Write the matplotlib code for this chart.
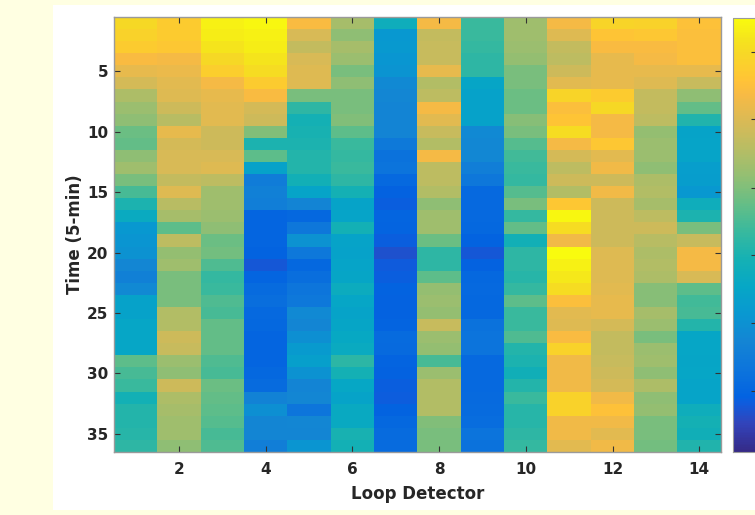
import numpy as np
import matplotlib.pyplot as plt
from matplotlib.colors import LinearSegmentedColormap
from matplotlib.patches import Rectangle

plt.rcParams['font.family'] = ['DejaVu Sans']
plt.rcParams['font.weight'] = 'bold'
plt.rcParams['axes.labelweight'] = 'bold'

# valores normalizados (0-1) por detector, linhas = intervalos de 5 min
det01 = [0.92, 0.90, 0.88, 0.83, 0.79, 0.75, 0.68, 0.65, 0.63, 0.58, 0.57, 0.63,
         0.66, 0.60, 0.53, 0.46, 0.40, 0.32, 0.31, 0.30, 0.26, 0.235, 0.27, 0.36,
         0.36, 0.38, 0.38, 0.38, 0.56, 0.53, 0.51, 0.44, 0.47, 0.47, 0.48, 0.49]
det02 = [0.88, 0.88, 0.87, 0.82, 0.80, 0.78, 0.77, 0.74, 0.70, 0.79, 0.75, 0.76,
         0.76, 0.72, 0.77, 0.70, 0.67, 0.56, 0.71, 0.64, 0.66, 0.60, 0.60, 0.60,
         0.69, 0.69, 0.74, 0.73, 0.65, 0.63, 0.74, 0.68, 0.67, 0.66, 0.66, 0.63]
det03 = [0.98, 0.97, 0.95, 0.92, 0.89, 0.82, 0.79, 0.78, 0.78, 0.74, 0.74, 0.76,
         0.77, 0.71, 0.66, 0.66, 0.65, 0.63, 0.58, 0.59, 0.54, 0.50, 0.51, 0.54,
         0.53, 0.57, 0.57, 0.57, 0.54, 0.53, 0.58, 0.57, 0.56, 0.55, 0.53, 0.54]
det04 = [0.99, 0.98, 0.97, 0.95, 0.93, 0.88, 0.83, 0.75, 0.74, 0.61, 0.46, 0.56,
         0.36, 0.22, 0.235, 0.23, 0.14, 0.14, 0.14, 0.13, 0.105, 0.14, 0.16, 0.17,
         0.15, 0.145, 0.14, 0.14, 0.14, 0.145, 0.16, 0.245, 0.29, 0.255, 0.255, 0.23]
det05 = [0.83, 0.76, 0.72, 0.76, 0.77, 0.77, 0.60, 0.49, 0.445, 0.45, 0.46, 0.47,
         0.47, 0.435, 0.37, 0.25, 0.145, 0.20, 0.30, 0.205, 0.145, 0.17, 0.195, 0.205,
         0.27, 0.255, 0.29, 0.33, 0.35, 0.30, 0.25, 0.26, 0.195, 0.26, 0.255, 0.31]
det06 = [0.67, 0.63, 0.67, 0.65, 0.60, 0.63, 0.60, 0.60, 0.61, 0.56, 0.51, 0.50,
         0.51, 0.49, 0.445, 0.365, 0.37, 0.44, 0.365, 0.36, 0.37, 0.375, 0.41, 0.38,
         0.365, 0.375, 0.39, 0.40, 0.485, 0.445, 0.385, 0.365, 0.395, 0.395, 0.45, 0.44]
det07 = [0.42, 0.32, 0.325, 0.315, 0.305, 0.27, 0.26, 0.25, 0.25, 0.25, 0.21, 0.18,
         0.19, 0.15, 0.125, 0.12, 0.14, 0.135, 0.12, 0.09, 0.111, 0.12, 0.13, 0.125,
         0.125, 0.135, 0.16, 0.155, 0.135, 0.125, 0.12, 0.117, 0.13, 0.145, 0.16, 0.16]
det08 = [0.82, 0.72, 0.73, 0.73, 0.79, 0.69, 0.71, 0.82, 0.78, 0.73, 0.69, 0.82,
         0.71, 0.71, 0.69, 0.63, 0.66, 0.66, 0.58, 0.49, 0.49, 0.56, 0.64, 0.65,
         0.64, 0.73, 0.65, 0.64, 0.53, 0.65, 0.69, 0.69, 0.69, 0.61, 0.60, 0.60]
det09 = [0.51, 0.51, 0.50, 0.49, 0.49, 0.375, 0.36, 0.36, 0.36, 0.27, 0.265, 0.265,
         0.23, 0.20, 0.15, 0.15, 0.15, 0.145, 0.13, 0.105, 0.125, 0.145, 0.15, 0.145,
         0.145, 0.18, 0.19, 0.19, 0.15, 0.15, 0.15, 0.155, 0.16, 0.165, 0.19, 0.18]
det10 = [0.66, 0.66, 0.65, 0.64, 0.60, 0.60, 0.58, 0.58, 0.62, 0.60, 0.55, 0.52,
         0.51, 0.50, 0.55, 0.60, 0.50, 0.57, 0.435, 0.49, 0.49, 0.48, 0.50, 0.56,
         0.51, 0.51, 0.54, 0.47, 0.46, 0.43, 0.47, 0.51, 0.48, 0.48, 0.49, 0.50]
det11 = [0.82, 0.77, 0.72, 0.71, 0.74, 0.78, 0.91, 0.84, 0.86, 0.93, 0.82, 0.75,
         0.71, 0.74, 0.69, 0.87, 0.99, 0.93, 0.81, 1.00, 0.98, 0.96, 0.93, 0.84,
         0.78, 0.77, 0.83, 0.90, 0.81, 0.81, 0.81, 0.90, 0.90, 0.81, 0.81, 0.78]
det12 = [0.91, 0.86, 0.83, 0.79, 0.79, 0.79, 0.88, 0.92, 0.82, 0.82, 0.87, 0.78,
         0.81, 0.74, 0.81, 0.74, 0.74, 0.74, 0.74, 0.77, 0.77, 0.77, 0.78, 0.79,
         0.79, 0.75, 0.72, 0.72, 0.73, 0.74, 0.75, 0.81, 0.85, 0.81, 0.78, 0.81]
det13 = [0.90, 0.87, 0.83, 0.82, 0.79, 0.77, 0.72, 0.72, 0.71, 0.64, 0.65, 0.65,
         0.63, 0.68, 0.69, 0.67, 0.71, 0.74, 0.70, 0.68, 0.69, 0.68, 0.62, 0.62,
         0.67, 0.65, 0.60, 0.65, 0.66, 0.63, 0.68, 0.63, 0.64, 0.60, 0.60, 0.59]
det14 = [0.85, 0.84, 0.84, 0.84, 0.79, 0.73, 0.63, 0.57, 0.465, 0.365, 0.37, 0.37,
         0.345, 0.34, 0.32, 0.42, 0.46, 0.60, 0.73, 0.82, 0.82, 0.76, 0.56, 0.52,
         0.53, 0.47, 0.38, 0.38, 0.375, 0.38, 0.37, 0.37, 0.42, 0.445, 0.43, 0.465]

x_ticks = [2, 4, 6, 8, 10, 12, 14]
y_ticks = [5, 10, 15, 20, 25, 30, 35]
cbar_ticks = [0.14, 0.297, 0.454, 0.609, 0.767, 0.922]

data = np.column_stack([det01, det02, det03, det04, det05, det06, det07,
                        det08, det09, det10, det11, det12, det13, det14])
n_rows, n_cols = data.shape

# aproximacao do mapa de cores parula (MATLAB)
parula = LinearSegmentedColormap.from_list('parula', [
    (0 / 63, '#352A87'), (4 / 63, '#3243BA'), (7 / 63, '#0F5CDD'),
    (8 / 63, '#0363E1'), (12 / 63, '#0D75DC'), (16 / 63, '#1485D4'),
    (20 / 63, '#0998D1'), (24 / 63, '#06A7C6'), (28 / 63, '#15B1B4'),
    (32 / 63, '#38B99E'), (36 / 63, '#65BE86'), (40 / 63, '#92BF73'),
    (44 / 63, '#B7BD64'), (48 / 63, '#D9BA56'), (52 / 63, '#F8BA44'),
    (54 / 63, '#FFC337'), (56 / 63, '#FCCE2E'), (58 / 63, '#F7D826'),
    (60 / 63, '#F5E41D'), (63 / 63, '#F9FB0E')])

W, H = 755, 515
fig = plt.figure(figsize=(W / 100, H / 100), dpi=100, facecolor='#FFFFE2')
# painel branco atras do grafico
fig.add_artist(Rectangle((53 / W, 5 / H), 1, 505 / H, transform=fig.transFigure,
                         facecolor='white', edgecolor='none', zorder=-10))

ax = fig.add_axes([114 / W, 63 / H, 607 / W, 435 / H])
im = ax.imshow(data, cmap=parula, vmin=0, vmax=1, aspect='auto',
               interpolation='nearest',
               extent=(0.5, n_cols + 0.5, n_rows + 0.5, 0.5))

ax.set_xticks(x_ticks)
ax.set_yticks(y_ticks)
ax.tick_params(direction='in', length=4.3, width=0.8, top=True, right=True,
               color='#333333', labelcolor='#262626', labelsize=11)
ax.tick_params(axis='x', pad=7)
ax.tick_params(axis='y', pad=4)
for s in ax.spines.values():
    s.set_edgecolor('#9a9a9a')
    s.set_linewidth(1)

ax.set_xlabel('Loop Detector', fontsize=12, fontweight='bold', color='#262626')
ax.set_ylabel('Time (5-min)', fontsize=12, fontweight='bold', color='#262626')
ax.xaxis.set_label_coords(0.5, -(485 - 452) / 435)
ax.yaxis.set_label_coords(-(114 - 84) / 607, 0.5)

# barra de cores (cortada na borda direita)
cax = fig.add_axes([733 / W, 63 / H, 24 / W, 434 / H])
cb = fig.colorbar(im, cax=cax)
cb.set_ticks(cbar_ticks)
cb.ax.tick_params(direction='in', length=4.3, width=0.8, color='#333333',
                  labelright=False)
cb.outline.set_edgecolor('#9a9a9a')

fig.savefig('out.png', dpi=100, facecolor=fig.get_facecolor())
